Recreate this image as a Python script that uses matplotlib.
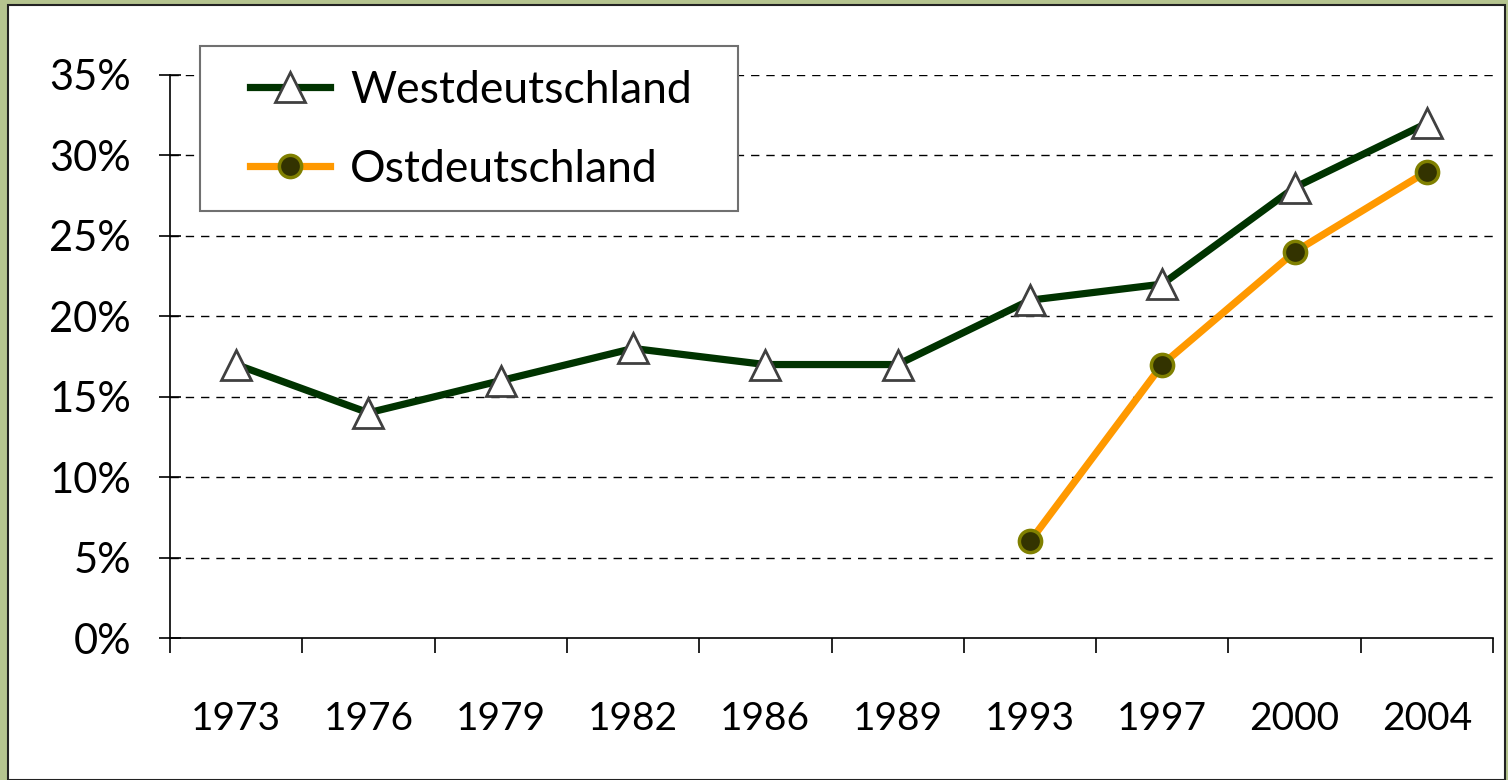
import matplotlib
matplotlib.use("Agg")
import matplotlib.pyplot as plt
import matplotlib.patches as patches
from matplotlib.ticker import FuncFormatter, FixedLocator

years = ["1973", "1976", "1979", "1982", "1986", "1989", "1993", "1997", "2000", "2004"]
west = [17, 14, 16, 18, 17, 17, 21, 22, 28, 32]
ost_years = ["1993", "1997", "2000", "2004"]
ost = [6, 17, 24, 29]
yticks = [0, 5, 10, 15, 20, 25, 30, 35]

plt.rcParams['font.family'] = ['Lato', 'DejaVu Sans']

W, H = 1508, 780
fig = plt.figure(figsize=(W / 100, H / 100), dpi=100)
fig.patch.set_facecolor("#b5c48f")
# white chart area inside the olive frame
fig.patches.append(patches.Rectangle((8 / W, 0), (1505 - 8) / W, (H - 5) / H,
                                     transform=fig.transFigure, facecolor="white",
                                     edgecolor="#222222", linewidth=1.5, zorder=-10))

ax = fig.add_axes([170 / W, 1 - 638 / H, (1493 - 170) / W, (638 - 75) / H])
ax.set_facecolor("none")

x_west = list(range(len(years)))
x_ost = [years.index(y) for y in ost_years]

ax.plot(x_west, west, color="#003300", lw=5.2, marker="^", ms=22,
        mfc="white", mec="#404040", mew=2, label="Westdeutschland",
        clip_on=False, zorder=3)
ax.plot(x_ost, ost, color="#ff9900", lw=5.2, marker="o", ms=16,
        mfc="#333300", mec="#808000", mew=2.5, label="Ostdeutschland",
        clip_on=False, zorder=3)

ax.set_xlim(-0.5, len(years) - 0.5)
ax.set_ylim(0, 35)

for v in yticks[1:]:
    ax.axhline(v, color="black", lw=1, linestyle=(0, (6, 5)), zorder=1)

ax.set_yticks(yticks)
ax.yaxis.set_major_formatter(FuncFormatter(lambda v, p: f"{int(v)}%"))
ax.tick_params(axis="y", direction="inout", length=16, width=1.2, pad=20,
               labelsize=30)

ax.set_xticks(x_west)
ax.set_xticklabels(years)
ax.xaxis.set_minor_locator(FixedLocator([i - 0.5 for i in range(len(years) + 1)]))
ax.tick_params(axis="x", which="major", length=0, pad=45, labelsize=28)
ax.tick_params(axis="x", which="minor", direction="out", length=11, width=1.2)

for s in ["top", "right"]:
    ax.spines[s].set_visible(False)
for s in ["left", "bottom"]:
    ax.spines[s].set_linewidth(1.2)
    ax.spines[s].set_color("black")

# legend box drawn separately, Excel style
ax.add_patch(patches.Rectangle((200 / W, 1 - 211 / H), (738 - 200) / W, (211 - 46) / H,
                               transform=fig.transFigure, facecolor="white",
                               edgecolor="#707070", linewidth=1.5, zorder=4,
                               clip_on=False))
leg = ax.legend(loc="upper left", bbox_to_anchor=((250 - 170) / 1323, (638 - 70) / 563),
                borderaxespad=0, borderpad=0, fontsize=32, frameon=False,
                handlelength=1.8, handletextpad=0.45, labelspacing=0.85)
leg.set_zorder(5)

fig.savefig("out.png", dpi=100, facecolor=fig.get_facecolor())
